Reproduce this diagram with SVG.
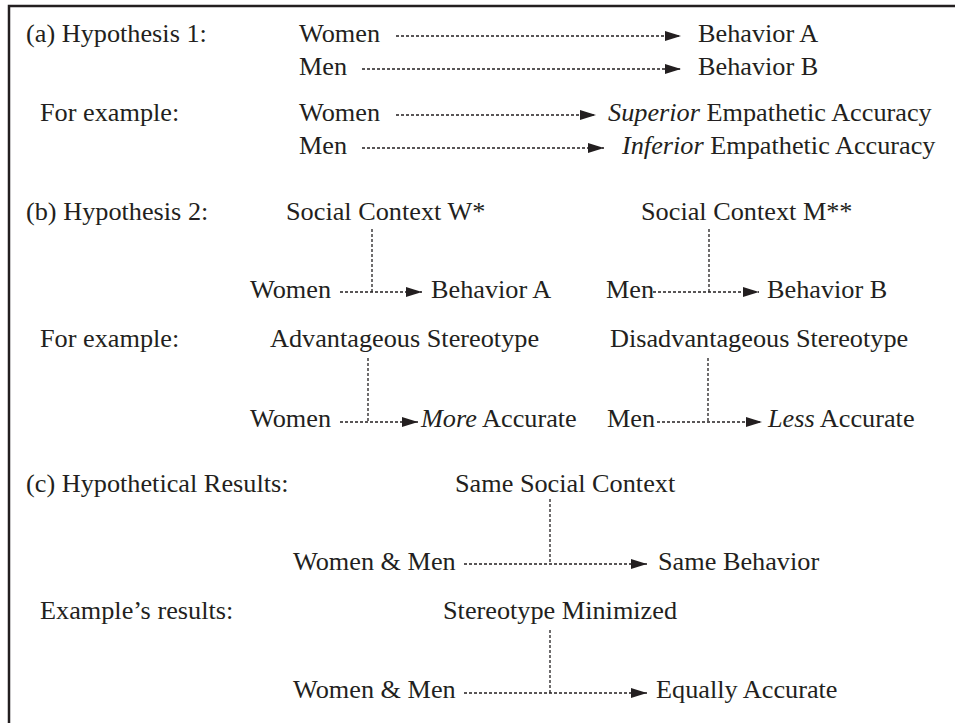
<svg xmlns="http://www.w3.org/2000/svg" width="955" height="723" viewBox="0 0 955 723">
<style>
text{font-family:"Liberation Serif","Times New Roman",serif;font-size:26px;fill:#231f20}
.i{font-style:italic}
.c{fill:none;stroke:#231f20;stroke-width:1.3;stroke-dasharray:3 2}
.frame{fill:none;stroke:#231f20;stroke-width:2.5}
</style>
<defs>
<marker id="ah" markerUnits="userSpaceOnUse" markerWidth="16" markerHeight="10" refX="16" refY="5" orient="auto">
<path d="M0,0 L16,5 L0,10 Z" fill="#231f20"/>
</marker>
</defs>
<rect width="955" height="723" fill="#fff"/>
<path class="frame" d="M9,723 V6 H955"/>

<g id="labels">
<text transform="translate(26 42) scale(1.01 1)">(a) Hypothesis 1:</text>
<text transform="translate(40 121) scale(1.01 1)">For example:</text>
<text transform="translate(26 220) scale(1.01 1)">(b) Hypothesis 2:</text>
<text transform="translate(40 347) scale(1.01 1)">For example:</text>
<text transform="translate(26 492) scale(1.01 1)">(c) Hypothetical Results:</text>
<text transform="translate(40 619) scale(1.01 1)">Example’s results:</text>
</g>

<g id="a-women"><text transform="translate(299 42) scale(1.01 1)">Women</text></g>
<g id="a-men"><text transform="translate(299 75) scale(1.01 1)">Men</text></g>
<g id="a-behA"><text transform="translate(698 42) scale(1.01 1)">Behavior A</text></g>
<g id="a-behB"><text transform="translate(698 75) scale(1.01 1)">Behavior B</text></g>
<g id="a-women2"><text transform="translate(299 121) scale(1.01 1)">Women</text></g>
<g id="a-men2"><text transform="translate(299 154) scale(1.01 1)">Men</text></g>
<g id="a-superior"><text transform="translate(608 121) scale(1.01 1)"><tspan class="i">Superior</tspan> Empathetic Accuracy</text></g>
<g id="a-inferior"><text transform="translate(622 154) scale(1.01 1)"><tspan class="i">Inferior</tspan> Empathetic Accuracy</text></g>

<g id="b-ctxW"><text transform="translate(286 220) scale(1.01 1)">Social Context W*</text></g>
<g id="b-ctxM"><text transform="translate(641 220) scale(1.01 1)">Social Context M**</text></g>
<g id="b-women"><text transform="translate(250 298) scale(1.01 1)">Women</text></g>
<g id="b-behA"><text transform="translate(431 298) scale(1.01 1)">Behavior A</text></g>
<g id="b-men"><text transform="translate(606 298) scale(1.01 1)">Men</text></g>
<g id="b-behB"><text transform="translate(767 298) scale(1.01 1)">Behavior B</text></g>
<g id="b-adv"><text transform="translate(270 347) scale(1.01 1)">Advantageous Stereotype</text></g>
<g id="b-dis"><text transform="translate(610 347) scale(1.01 1)">Disadvantageous Stereotype</text></g>
<g id="b-women2"><text transform="translate(250 427) scale(1.01 1)">Women</text></g>
<g id="b-more"><text transform="translate(421 427) scale(1.01 1)"><tspan class="i">More</tspan> Accurate</text></g>
<g id="b-men2"><text transform="translate(607 427) scale(1.01 1)">Men</text></g>
<g id="b-less"><text transform="translate(768 427) scale(1.01 1)"><tspan class="i">Less</tspan> Accurate</text></g>

<g id="c-ctx"><text transform="translate(455 492) scale(1.01 1)">Same Social Context</text></g>
<g id="c-wm"><text transform="translate(293 570) scale(1.01 1)">Women &amp; Men</text></g>
<g id="c-same"><text transform="translate(658 570) scale(1.01 1)">Same Behavior</text></g>
<g id="c-stereo"><text transform="translate(443 619) scale(1.01 1)">Stereotype Minimized</text></g>
<g id="c-wm2"><text transform="translate(293 698) scale(1.01 1)">Women &amp; Men</text></g>
<g id="c-equal"><text transform="translate(656 698) scale(1.01 1)">Equally Accurate</text></g>

<g id="connectors">
<line class="c" x1="396" y1="36" x2="681" y2="36" marker-end="url(#ah)"/>
<line class="c" x1="362" y1="69" x2="681" y2="69" marker-end="url(#ah)"/>
<line class="c" x1="396" y1="115" x2="596" y2="115" marker-end="url(#ah)"/>
<line class="c" x1="362" y1="148" x2="604" y2="148" marker-end="url(#ah)"/>

<line class="c" x1="340" y1="292" x2="422" y2="292" marker-end="url(#ah)"/>
<line class="c" x1="372" y1="229" x2="372" y2="292"/>
<line class="c" x1="653" y1="292" x2="759" y2="292" marker-end="url(#ah)"/>
<line class="c" x1="709" y1="229" x2="709" y2="292"/>

<line class="c" x1="340" y1="422" x2="418" y2="422" marker-end="url(#ah)"/>
<line class="c" x1="368" y1="358" x2="368" y2="422"/>
<line class="c" x1="657" y1="422" x2="762" y2="422" marker-end="url(#ah)"/>
<line class="c" x1="708" y1="358" x2="708" y2="422"/>

<line class="c" x1="464" y1="564" x2="647" y2="564" marker-end="url(#ah)"/>
<line class="c" x1="550" y1="499" x2="550" y2="564"/>
<line class="c" x1="464" y1="693" x2="647" y2="693" marker-end="url(#ah)"/>
<line class="c" x1="550" y1="630" x2="550" y2="693"/>
</g>
</svg>
